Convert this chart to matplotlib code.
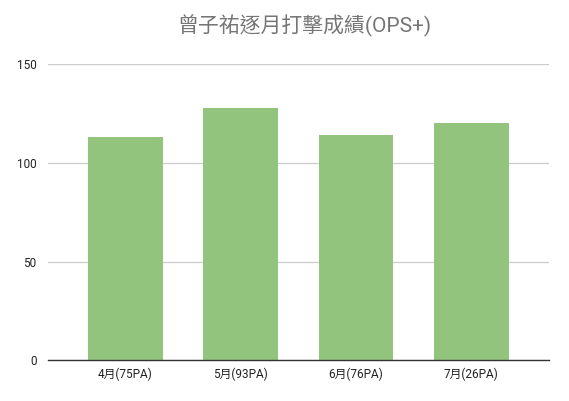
import matplotlib
matplotlib.use("Agg")
from matplotlib import pyplot as plt

# Chart data
months = ['4月(75PA)', '5月(93PA)', '6月(76PA)', '7月(26PA)']
ops_plus = [113, 128, 114, 120]
y_ticks = [0, 50, 100, 150]

plt.rcParams['font.family'] = ['Roboto', 'Noto Sans CJK TC', 'DejaVu Sans']

fig = plt.figure(figsize=(5.69, 4.01), dpi=100)
ax = fig.add_axes([0.0838, 0.1015, 0.8811, 0.7382])

# Bars
x = range(len(months))
ax.bar(x, ops_plus, width=0.65, color='#93c47d', zorder=2)

# Axes limits and ticks
ax.set_xlim(-0.675, len(months) - 1 + 0.675)
ax.set_ylim(0, 150)
ax.set_yticks(y_ticks)
ax.set_yticklabels([str(v) for v in y_ticks])
ax.set_xticks(list(x))
ax.set_xticklabels(months)
ax.tick_params(axis='both', length=0, labelsize=8.5, colors='#222222')
ax.tick_params(axis='y', pad=8)
ax.tick_params(axis='x', pad=5)

# Grid and spines
ax.grid(axis='y', color='#cccccc', linewidth=0.9, zorder=0)
for side in ['top', 'right', 'left']:
    ax.spines[side].set_visible(False)
ax.spines['bottom'].set_color('#333333')
ax.spines['bottom'].set_linewidth(1.0)
ax.spines['bottom'].set_zorder(3)

# Title
fig.text(0.535, 0.935, '曾子祐逐月打擊成績(OPS+)', ha='center', va='center',
         fontsize=15, color='#757575')

fig.savefig('out.png', dpi=100)
